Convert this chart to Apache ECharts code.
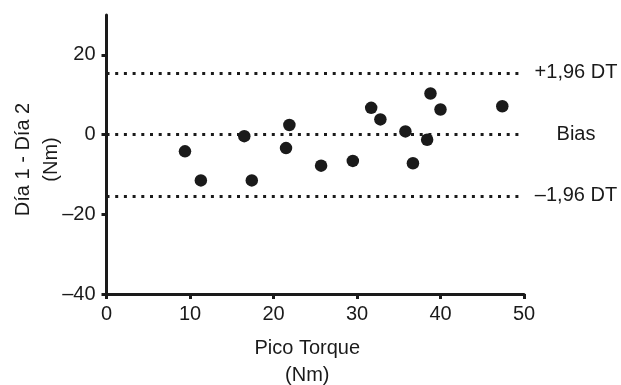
<!DOCTYPE html>
<html>
<head>
<meta charset="utf-8">
<script src="https://cdn.jsdelivr.net/npm/echarts@6/dist/echarts.min.js"></script>
<style>
  html, body { margin: 0; padding: 0; background: #fff; }
  #chart { width: 621px; height: 385px; }
</style>
</head>
<body>
<div id="chart"></div>
<script>
// Bland-Altman: pico torque vs difference between days
const picoTorque = [9.4, 11.3, 16.5, 17.4, 21.9, 21.5, 25.7, 29.5, 31.7, 32.8, 35.8, 36.7, 38.4, 38.8, 40.0, 47.4];
const diffDays   = [-4.2, -11.5, -0.4, -11.5, 2.4, -3.4, -7.8, -6.6, 6.7, 3.8, 0.8, -7.2, -1.3, 10.3, 6.3, 7.1];

const limitValues = [15.5, 0.1, -15.4];
const limitLabels = ['+1,96 DT', 'Bias', '–1,96 DT'];

const xTicks = [0, 10, 20, 30, 40, 50];
const yTicks = [-40, -20, 0, 20];

const font = 'Liberation Sans, Arial, sans-serif';
const ink = '#1a1a1a';

const chart = echarts.init(document.getElementById('chart'), null, { renderer: 'canvas' });

const dashMinus = v => String(v).replace('-', '–');

const option = {
  animation: false,
  grid: { left: 106.5, right: 97, top: 15, bottom: 91, outerBoundsMode: 'none', containLabel: false },
  xAxis: {
    type: 'value',
    min: 0,
    max: 50,
    name: 'Pico Torque\n(Nm)',
    nameLocation: 'middle',
    nameGap: 41,
    nameMoveOverlap: false,
    nameTextStyle: { fontFamily: font, fontSize: 20, color: ink, lineHeight: 27, verticalAlign: 'top', padding: [0, 16, 0, 0] },
    axisLine: { onZero: false, lineStyle: { color: ink, width: 3 } },
    axisTick: { show: true, length: 5, lineStyle: { color: ink, width: 3 }, customValues: xTicks },
    axisLabel: { fontFamily: font, fontSize: 20, color: ink, margin: 10, customValues: xTicks },
    splitLine: { show: false }
  },
  yAxis: {
    type: 'value',
    min: -40,
    max: 30,
    name: 'Día 1 - Día 2\n(Nm)',
    nameLocation: 'middle',
    nameRotate: 90,
    nameGap: 41,
    nameMoveOverlap: false,
    nameTextStyle: { fontFamily: font, fontSize: 20, color: ink, lineHeight: 28, padding: [0, 10, 0, 0] },
    axisLine: { onZero: false, lineStyle: { color: ink, width: 3 } },
    axisTick: { show: true, length: 5, lineStyle: { color: ink, width: 3 }, customValues: yTicks },
    axisLabel: { fontFamily: font, fontSize: 20, color: ink, margin: 11, customValues: yTicks, formatter: dashMinus },
    splitLine: { show: false }
  },
  series: [
    {
      type: 'scatter',
      data: picoTorque.map((x, i) => [x, diffDays[i]]),
      symbol: 'circle',
      symbolSize: 12.5,
      itemStyle: { color: ink, opacity: 1 },
      z: 3
    },
    {
      type: 'line',
      data: [],
      markLine: {
        silent: true,
        symbol: ['none', 'none'],
        lineStyle: { color: ink, width: 3, type: [3, 5.7], cap: 'butt', opacity: 1 },
        label: {
          show: true,
          position: 'end',
          distance: 9,
          formatter: p => '{t|' + p.name + '}',
          rich: { t: { width: 86, align: 'center', fontFamily: font, fontSize: 20, color: ink } }
        },
        data: limitValues.map((v, i) => ({ yAxis: v, name: limitLabels[i] }))
      }
    }
  ]
};

chart.setOption(option);
</script>
</body>
</html>
